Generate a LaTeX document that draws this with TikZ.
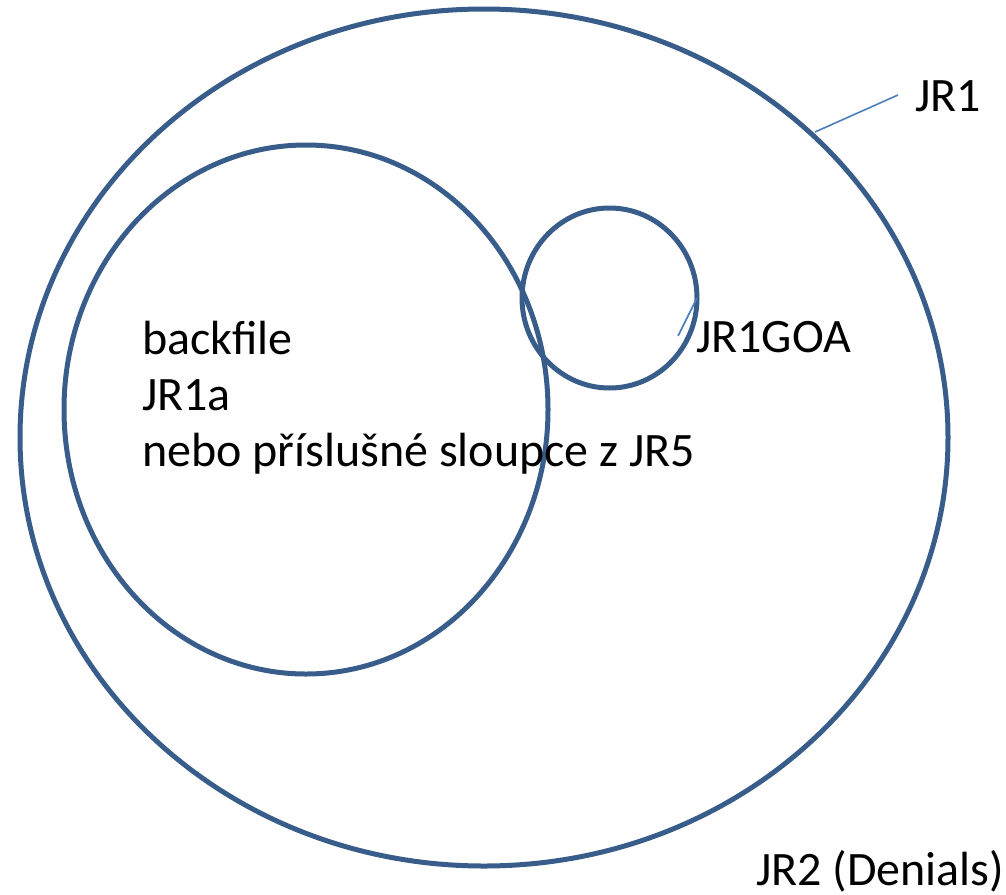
\documentclass[tikz,border=0pt]{standalone}
\usepackage{fontspec}
\setmainfont{Carlito}
\definecolor{ring}{RGB}{56,93,138}
\definecolor{leader}{RGB}{74,126,187}
\begin{document}
\begin{tikzpicture}[x=1pt,y=-1pt,
  ringline/.style={draw=ring,line width=5pt},
  leaderline/.style={draw=leader,line width=1.6pt},
  lbl/.style={anchor=base west,inner sep=0pt,outer sep=0pt,font=\fontsize{48}{56}\selectfont}]
\useasboundingbox (0,0) rectangle (1006,894);
% sets
\coordinate (outerc) at (484,437.5);
\coordinate (midc) at (306,409.5);
\coordinate (smallc) at (609.5,298);
\draw[ringline] (outerc) ellipse [x radius=464, y radius=428.5];
\draw[ringline] (midc) ellipse [x radius=242, y radius=264.5];
\draw[ringline] (smallc) ellipse [x radius=87.5, y radius=90];
% texts
\node[lbl] (t1) at (142,354) {backfile};
\node[lbl] (t2) at (142,410) {JR1a};
\node[lbl] (t3) at (142,466) {nebo příslušné sloupce z JR5};
\node[lbl] (goa) at (696,352) {JR1GOA};
\node[lbl] (jr1) at (915,111) {JR1};
\node[lbl] (jr2) at (756,885) {JR2 (Denials)};
% leaders
\coordinate (l1a) at (815,132);
\coordinate (l1b) at (898,95);
\coordinate (l2a) at (678,336);
\coordinate (l2b) at (697,298);
\draw[leaderline] (l1a) -- (l1b);
\draw[leaderline] (l2a) -- (l2b);
\end{tikzpicture}
\end{document}
